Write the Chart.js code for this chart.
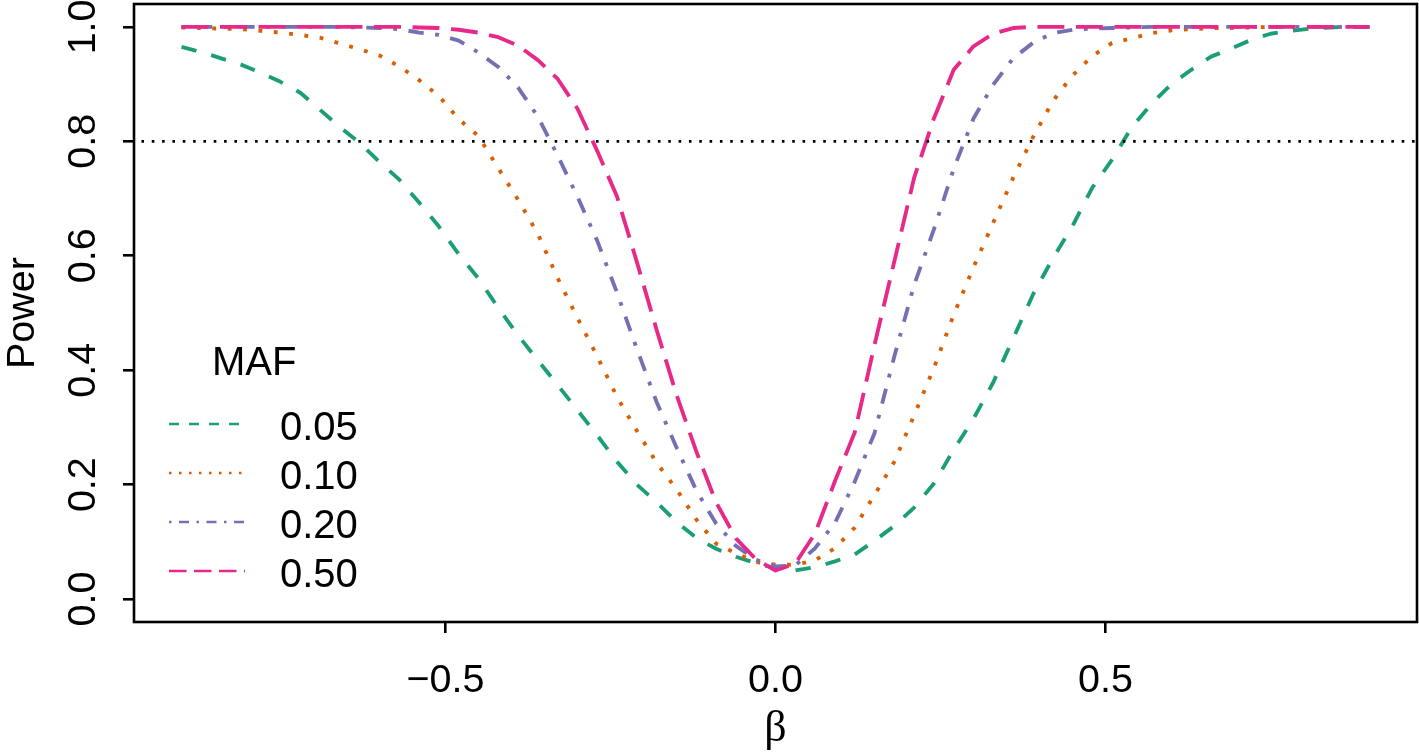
<!DOCTYPE html>
<html>
<head>
<meta charset="utf-8">
<script src="https://cdn.jsdelivr.net/npm/chart.js@4"></script>
<style>
  html, body { margin: 0; padding: 0; background: #fff; }
  canvas { display: block; }
</style>
</head>
<body>
<canvas id="powerChart" width="1419" height="755"></canvas>
<script>
// effect size on the x axis
const beta = [-0.90, -0.87, -0.84, -0.81, -0.78, -0.75, -0.72, -0.69, -0.66, -0.63,
  -0.60, -0.57, -0.54, -0.51, -0.48, -0.45, -0.42, -0.39, -0.36, -0.33,
  -0.30, -0.27, -0.24, -0.21, -0.18, -0.15, -0.12, -0.09, -0.06, -0.03,
  0.00,
  0.03, 0.06, 0.09, 0.12, 0.15, 0.18, 0.21, 0.24, 0.27, 0.30,
  0.33, 0.36, 0.39, 0.42, 0.45, 0.48, 0.51, 0.54, 0.57, 0.60,
  0.63, 0.66, 0.69, 0.72, 0.75, 0.78, 0.81, 0.84, 0.87, 0.90];

// power, one list per MAF
const power005 = [0.965, 0.956, 0.945, 0.934, 0.920, 0.904, 0.885, 0.855, 0.825, 0.797,
  0.764, 0.733, 0.693, 0.651, 0.603, 0.560, 0.509, 0.461, 0.417, 0.374,
  0.330, 0.286, 0.240, 0.200, 0.169, 0.135, 0.107, 0.088, 0.074, 0.063,
  0.054,
  0.050, 0.056, 0.066, 0.078, 0.102, 0.128, 0.160, 0.202, 0.261, 0.315,
  0.379, 0.455, 0.532, 0.595, 0.652, 0.719, 0.768, 0.825, 0.866, 0.900,
  0.925, 0.948, 0.962, 0.977, 0.988, 0.993, 0.997, 0.999, 1.000, 1.000];
const power010 = [0.999, 0.998, 0.997, 0.996, 0.993, 0.990, 0.986, 0.981, 0.971, 0.961,
  0.950, 0.931, 0.907, 0.879, 0.839, 0.809, 0.753, 0.698, 0.638, 0.561,
  0.491, 0.424, 0.353, 0.294, 0.238, 0.192, 0.139, 0.097, 0.080, 0.065,
  0.060,
  0.060, 0.068, 0.089, 0.125, 0.182, 0.240, 0.321, 0.404, 0.497, 0.580,
  0.658, 0.736, 0.807, 0.870, 0.915, 0.949, 0.972, 0.980, 0.989, 0.994,
  0.996, 0.998, 0.998, 0.999, 1.000, 1.000, 1.000, 1.000, 1.000, 1.000];
const power020 = [1.000, 1.000, 1.000, 1.000, 1.000, 1.000, 1.000, 1.000, 1.000, 0.999,
  0.998, 0.996, 0.990, 0.986, 0.976, 0.955, 0.930, 0.894, 0.843, 0.775,
  0.703, 0.626, 0.535, 0.437, 0.344, 0.265, 0.190, 0.132, 0.093, 0.069,
  0.057,
  0.059, 0.089, 0.133, 0.205, 0.290, 0.424, 0.549, 0.646, 0.752, 0.840,
  0.899, 0.945, 0.972, 0.989, 0.995, 0.997, 0.998, 0.999, 1.000, 1.000,
  1.000, 1.000, 1.000, 1.000, 1.000, 1.000, 1.000, 1.000, 1.000, 1.000];
const power050 = [1.000, 1.000, 1.000, 1.000, 1.000, 1.000, 1.000, 1.000, 1.000, 1.000,
  1.000, 1.000, 0.999, 0.998, 0.995, 0.990, 0.982, 0.967, 0.942, 0.909,
  0.857, 0.783, 0.703, 0.589, 0.470, 0.357, 0.258, 0.169, 0.106, 0.070,
  0.050,
  0.062, 0.115, 0.206, 0.291, 0.444, 0.590, 0.736, 0.840, 0.925, 0.966,
  0.988, 0.998, 1.000, 1.000, 1.000, 1.000, 1.000, 1.000, 1.000, 1.000,
  1.000, 1.000, 1.000, 1.000, 1.000, 1.000, 1.000, 1.000, 1.000, 1.000];

const mafLabels = ['0.05', '0.10', '0.20', '0.50'];
const xTicks = [-0.5, 0, 0.5];
const xTickLabels = ['\u22120.5', '0.0', '0.5'];
const yTicks = [0, 0.2, 0.4, 0.6, 0.8, 1.0];
const yTickLabels = ['0.0', '0.2', '0.4', '0.6', '0.8', '1.0'];
const powerThreshold = 0.8;

// R Dark2 colours and lty 2,3,4,5 (butt ends)
const lineColors = ['#1B9E77', '#D95F02', '#7570B3', '#E7298A'];
const lw = 3.85, lwLeg = 2.5;
const dashOf = (w) => [[4 * w, 4 * w], [w, 3 * w], [w, 3 * w, 4 * w, 3 * w], [7 * w, 3 * w]];

const FONT = '"Liberation Sans", Arial, sans-serif';
const series = [power005, power010, power020, power050];

const rDecorations = {
  id: 'rDecorations',
  afterDatasetsDraw(chart) {
    const { ctx, chartArea: a, scales: { y } } = chart;
    const py = y.getPixelForValue(powerThreshold);
    ctx.save();
    ctx.strokeStyle = '#000';
    ctx.lineWidth = 2.6;
    ctx.setLineDash([2.6, 7.73]);
    ctx.lineDashOffset = 2.9;
    ctx.beginPath();
    ctx.moveTo(a.left, py);
    ctx.lineTo(a.right, py);
    ctx.stroke();
    ctx.restore();
  },
  afterDraw(chart) {
    const { ctx, chartArea: a, scales: { x, y } } = chart;
    ctx.save();
    // box
    ctx.strokeStyle = '#000';
    ctx.lineWidth = 2.6;
    ctx.strokeRect(a.left, a.top, a.right - a.left, a.bottom - a.top);

    ctx.fillStyle = '#000';
    ctx.font = '39.5px ' + FONT;
    // x tick labels
    ctx.textAlign = 'center';
    ctx.textBaseline = 'alphabetic';
    xTicks.forEach((v, i) => ctx.fillText(xTickLabels[i], x.getPixelForValue(v), 692));
    // y tick labels, rotated like R's las = 0
    yTicks.forEach((v, i) => {
      ctx.save();
      ctx.translate(95, y.getPixelForValue(v));
      ctx.rotate(-Math.PI / 2);
      ctx.fillText(yTickLabels[i], 0, 0);
      ctx.restore();
    });
    // axis titles
    ctx.save();
    ctx.translate(34, (a.top + a.bottom) / 2);
    ctx.rotate(-Math.PI / 2);
    ctx.fillText('Power', 0, 0);
    ctx.restore();
    ctx.font = '44px "Liberation Serif", serif';
    ctx.fillText('\u03B2', (a.left + a.right) / 2, 741);

    // legend
    ctx.font = '40px ' + FONT;
    ctx.textAlign = 'left';
    ctx.fillText('MAF', 212, 375);
    const legDash = dashOf(lwLeg);
    chart.data.datasets.forEach((ds, i) => {
      const ry = 424 + i * 49;
      ctx.save();
      ctx.strokeStyle = ds.borderColor;
      ctx.lineWidth = lwLeg;
      ctx.setLineDash(legDash[i]);
      ctx.beginPath();
      ctx.moveTo(169, ry);
      ctx.lineTo(245, ry);
      ctx.stroke();
      ctx.restore();
      ctx.fillText(ds.label, 280, ry + 15.5);
    });
    ctx.restore();
  }
};

const curveDash = dashOf(lw);

new Chart(document.getElementById('powerChart'), {
  type: 'line',
  data: {
    datasets: series.map((vals, i) => ({
      label: mafLabels[i],
      data: beta.map((b, j) => ({ x: b, y: vals[j] })),
      borderColor: lineColors[i],
      borderWidth: lw,
      borderDash: curveDash[i],
      borderJoinStyle: 'round',
      pointRadius: 0,
      tension: 0,
      fill: false,
      order: 4 - i
    }))
  },
  options: {
    responsive: false,
    animation: false,
    devicePixelRatio: 1,
    layout: { padding: { top: 4, right: 2, left: 0, bottom: 0 } },
    plugins: { legend: { display: false }, tooltip: { enabled: false } },
    scales: {
      x: {
        type: 'linear',
        min: -0.972,
        max: 0.972,
        afterBuildTicks: (s) => { s.ticks = xTicks.map(v => ({ value: v })); },
        afterFit: (s) => { s.height = 133; },
        ticks: { display: false },
        grid: { drawOnChartArea: false, drawTicks: true, tickLength: 11, lineWidth: 2.6, color: '#000' },
        border: { display: false }
      },
      y: {
        type: 'linear',
        min: -0.04,
        max: 1.04,
        afterBuildTicks: (s) => { s.ticks = yTicks.map(v => ({ value: v })); },
        afterFit: (s) => { s.width = 134; },
        ticks: { display: false },
        grid: { drawOnChartArea: false, drawTicks: true, tickLength: 11, lineWidth: 2.6, color: '#000' },
        border: { display: false }
      }
    }
  },
  plugins: [rDecorations]
});
</script>
</body>
</html>
